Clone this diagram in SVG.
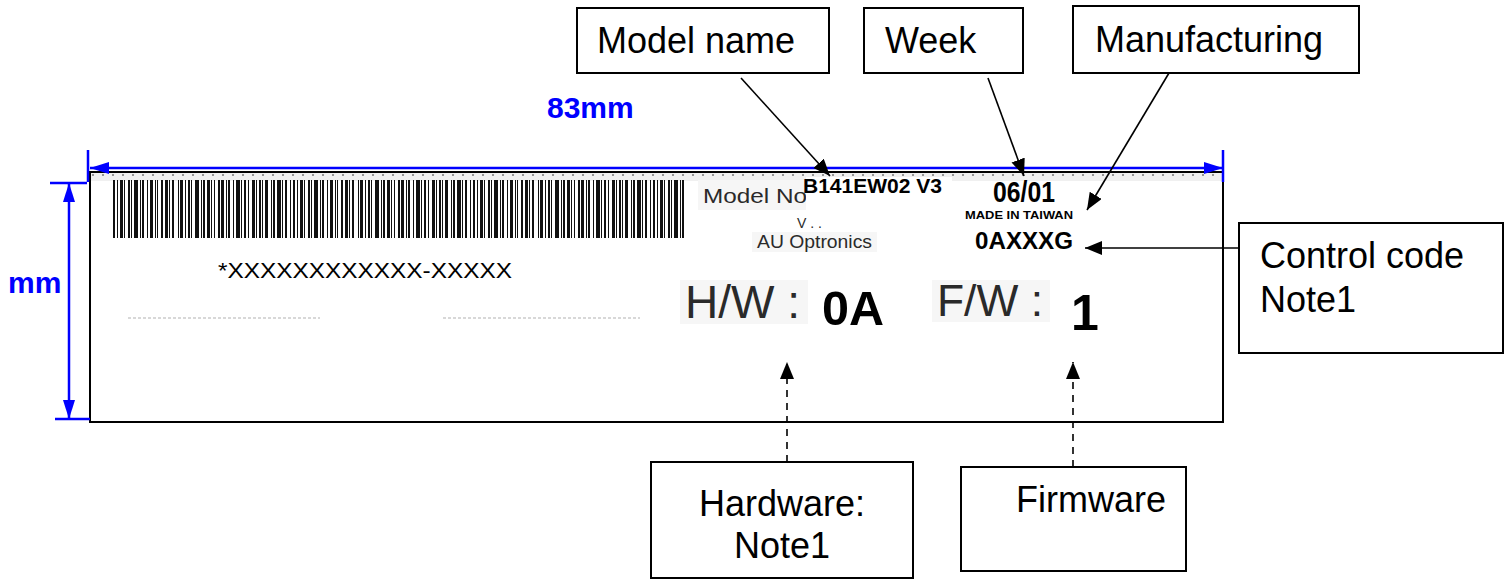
<svg xmlns="http://www.w3.org/2000/svg" width="1510" height="579" viewBox="0 0 1510 579">
<style>
  text { font-family: "Liberation Sans", Arial, sans-serif; }
  .box { fill: #fff; stroke: #000; stroke-width: 2; }
  .lbl { font-size: 36px; fill: #000; }
  .dim { stroke: #0000ff; stroke-width: 2.5; fill: none; }
  .dimt { font-size: 30px; font-weight: bold; fill: #0000ff; }
  .con { stroke: #000; stroke-width: 1.6; fill: none; marker-end: url(#ah); }
  .dash { stroke-dasharray: 7 6; }
  .bold { font-weight: bold; fill: #000; }
  .gray { fill: #2a2a2a; }
  .patch { fill: #f6f6f6; }
</style>
<defs>
  <marker id="ah" markerUnits="userSpaceOnUse" markerWidth="18" markerHeight="16" refX="17" refY="7" orient="auto-start-reverse">
    <path d="M0,0 L17,7 L0,14 z" fill="#000"/>
  </marker>
  <marker id="bh" markerUnits="userSpaceOnUse" markerWidth="20" markerHeight="14" refX="19" refY="6" orient="auto-start-reverse">
    <path d="M0,0 L19,6 L0,12 z" fill="#0000ff"/>
  </marker>
</defs>

<g id="label">
  <rect x="90" y="172" width="1133" height="250" fill="#fff" stroke="#000" stroke-width="2"/>
  <rect x="91" y="173" width="1131" height="8" fill="#f0f0f0"/>
  <line x1="92" y1="175" x2="1221" y2="175" stroke="#777" stroke-width="1.5" stroke-dasharray="2 8"/>
  <line x1="113" y1="209" x2="687" y2="209" stroke="#111" stroke-width="58" stroke-dasharray="2 2 1 2 3 1 1 3 2 1 1 2 4 2 1 1 2 3 1 2 3 2 1 1 1 3 2 2 3 1 1 2 2 4 1 1 3 2 1 2 2 1 1 3 4 2 1 1 2 2 3 1 1 2 1 3 2 1 3 2 1 1 2 3 1 2 4 1 1 2 2 2 1 3 3 1 1 2 2 1 1 2 3 3 1 1 2 2 4 1 1 2 2 3 1 2"/>
  <text x="218" y="278" font-size="22" fill="#000" textLength="294" lengthAdjust="spacingAndGlyphs">*XXXXXXXXXXXX-XXXXX</text>
  <line x1="128" y1="318" x2="320" y2="318" stroke="#d8d8d8" stroke-width="2" stroke-dasharray="3 2"/>
  <line x1="443" y1="318" x2="640" y2="318" stroke="#d8d8d8" stroke-width="2" stroke-dasharray="3 2"/>
  <rect class="patch" x="698" y="180" width="110" height="30"/>
  <rect class="patch" x="752" y="232" width="125" height="20"/>
  <text x="703" y="203" font-size="21" class="gray" textLength="104" lengthAdjust="spacingAndGlyphs">Model No</text>
  <text x="797" y="228" font-size="14" class="gray">V . .</text>
  <text x="757" y="248" font-size="18" class="gray" textLength="115" lengthAdjust="spacingAndGlyphs">AU Optronics</text>
  <rect x="806" y="177" width="146" height="40" fill="#fff"/>
  <text x="803" y="193" font-size="20" class="bold" textLength="139" lengthAdjust="spacingAndGlyphs">B141EW02 V3</text>
  <text x="993" y="202" font-size="30" class="bold" textLength="62" lengthAdjust="spacingAndGlyphs">06/01</text>
  <text x="965" y="219" font-size="10" class="bold" textLength="108" lengthAdjust="spacingAndGlyphs">MADE IN TAIWAN</text>
  <text x="975" y="249" font-size="24" class="bold" textLength="98" lengthAdjust="spacingAndGlyphs">0AXXXG</text>
  <rect class="patch" x="680" y="280" width="128" height="44"/>
  <rect class="patch" x="932" y="280" width="118" height="42"/>
  <text x="685" y="318" font-size="46" class="gray" textLength="115" lengthAdjust="spacingAndGlyphs">H/W :</text>
  <text x="822" y="325" font-size="48" class="bold" textLength="62" lengthAdjust="spacingAndGlyphs">0A</text>
  <text x="937" y="316" font-size="44" class="gray" textLength="106" lengthAdjust="spacingAndGlyphs">F/W :</text>
  <text x="1071" y="330" font-size="50" class="bold">1</text>
</g>

<g id="dimensions">
  <line class="dim" x1="88" y1="150" x2="88" y2="182"/>
  <line class="dim" x1="1223" y1="150" x2="1223" y2="182"/>
  <line class="dim" x1="90" y1="168" x2="1223" y2="168" marker-start="url(#bh)" marker-end="url(#bh)"/>
  <text class="dimt" x="547" y="118">83mm</text>
  <line class="dim" x1="50" y1="183" x2="87" y2="183"/>
  <line class="dim" x1="55" y1="419" x2="90" y2="419"/>
  <line class="dim" x1="69" y1="183" x2="69" y2="419" marker-start="url(#bh)" marker-end="url(#bh)"/>
  <text class="dimt" x="8" y="293">mm</text>
</g>

<g id="node-model-name">
  <rect class="box" x="577" y="8" width="252" height="65"/>
  <text class="lbl" x="597" y="53">Model name</text>
</g>
<g id="node-week">
  <rect class="box" x="864" y="8" width="159" height="65"/>
  <text class="lbl" x="885" y="53">Week</text>
</g>
<g id="node-manufacturing">
  <rect class="box" x="1073" y="6" width="286" height="67"/>
  <text class="lbl" x="1095" y="52">Manufacturing</text>
</g>
<g id="node-control-code">
  <rect class="box" x="1239" y="223" width="264" height="130"/>
  <text class="lbl" x="1260" y="268">Control code</text>
  <text class="lbl" x="1260" y="312">Note1</text>
</g>
<g id="node-hardware">
  <rect class="box" x="651" y="462" width="262" height="116"/>
  <text class="lbl" x="782" y="516" text-anchor="middle">Hardware:</text>
  <text class="lbl" x="782" y="558" text-anchor="middle">Note1</text>
</g>
<g id="node-firmware">
  <rect class="box" x="961" y="467" width="225" height="104"/>
  <text class="lbl" x="1091" y="512" text-anchor="middle">Firmware</text>
</g>

<g id="connectors">
  <line class="con" x1="741" y1="78" x2="830" y2="176"/>
  <line class="con" x1="988" y1="78" x2="1024" y2="176"/>
  <line class="con" x1="1169" y1="73" x2="1087" y2="210"/>
  <line class="con" x1="1239" y1="248" x2="1085" y2="248"/>
  <line class="con dash" x1="787" y1="462" x2="787" y2="362"/>
  <line class="con dash" x1="1073" y1="467" x2="1073" y2="362"/>
</g>
</svg>
